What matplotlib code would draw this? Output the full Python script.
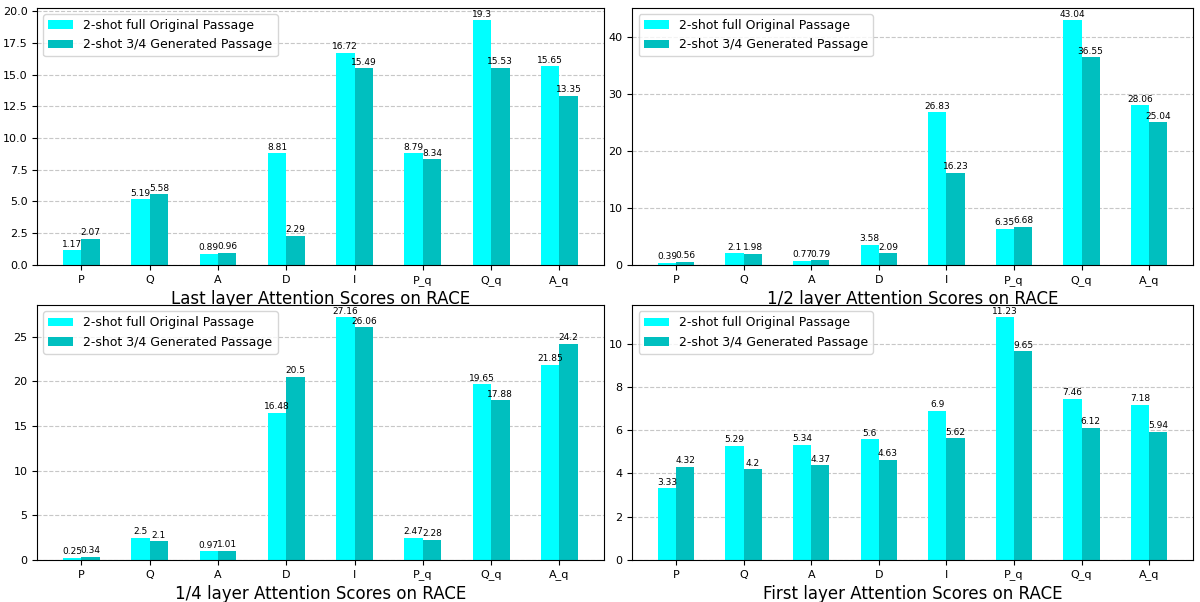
import numpy as np
import matplotlib.pyplot as plt

categories = ['P', 'Q', 'A', 'D', 'I', 'P_q', 'Q_q', 'A_q']

last_orig = [1.17, 5.19, 0.89, 8.81, 16.72, 8.79, 19.3, 15.65]
last_gen = [2.07, 5.58, 0.96, 2.29, 15.49, 8.34, 15.53, 13.35]

half_orig = [0.39, 2.1, 0.77, 3.58, 26.83, 6.35, 43.04, 28.06]
half_gen = [0.56, 1.98, 0.79, 2.09, 16.23, 6.68, 36.55, 25.04]

quarter_orig = [0.25, 2.5, 0.97, 16.48, 27.16, 2.47, 19.65, 21.85]
quarter_gen = [0.34, 2.1, 1.01, 20.5, 26.06, 2.28, 17.88, 24.2]

first_orig = [3.33, 5.29, 5.34, 5.6, 6.9, 11.23, 7.46, 7.18]
first_gen = [4.32, 4.2, 4.37, 4.63, 5.62, 9.65, 6.12, 5.94]

titles = ['Last layer Attention Scores on RACE', '1/2 layer Attention Scores on RACE',
          '1/4 layer Attention Scores on RACE', 'First layer Attention Scores on RACE']
data = [(last_orig, last_gen), (half_orig, half_gen),
        (quarter_orig, quarter_gen), (first_orig, first_gen)]

fig = plt.figure(figsize=(12, 6.02), dpi=100)
positions = [[0.031, 0.56, 0.472, 0.427], [0.527, 0.56, 0.467, 0.427],
             [0.031, 0.07, 0.472, 0.423], [0.527, 0.07, 0.467, 0.423]]

width = 0.27
x = np.arange(len(categories))
for pos, title, (orig, gen) in zip(positions, titles, data):
    ax = fig.add_axes(pos)
    b1 = ax.bar(x - width / 2, orig, width, color='cyan', label='2-shot full Original Passage')
    b2 = ax.bar(x + width / 2, gen, width, color='c', label='2-shot 3/4 Generated Passage')
    for bars in (b1, b2):
        for rect in bars:
            h = rect.get_height()
            ax.annotate(f'{h:g}', (rect.get_x() + rect.get_width() / 2, h),
                        xytext=(0, 1), textcoords='offset points',
                        ha='center', va='bottom', fontsize=6.5)
    ax.set_xticks(x)
    ax.set_xticklabels(categories)
    ax.tick_params(labelsize=8)
    ax.set_xlabel(title, fontsize=12, labelpad=3)
    ax.grid(axis='y', linestyle='--', alpha=0.7)
    ax.set_axisbelow(True)
    ax.legend(loc='upper left', fontsize=9)

fig.savefig('out.png')
